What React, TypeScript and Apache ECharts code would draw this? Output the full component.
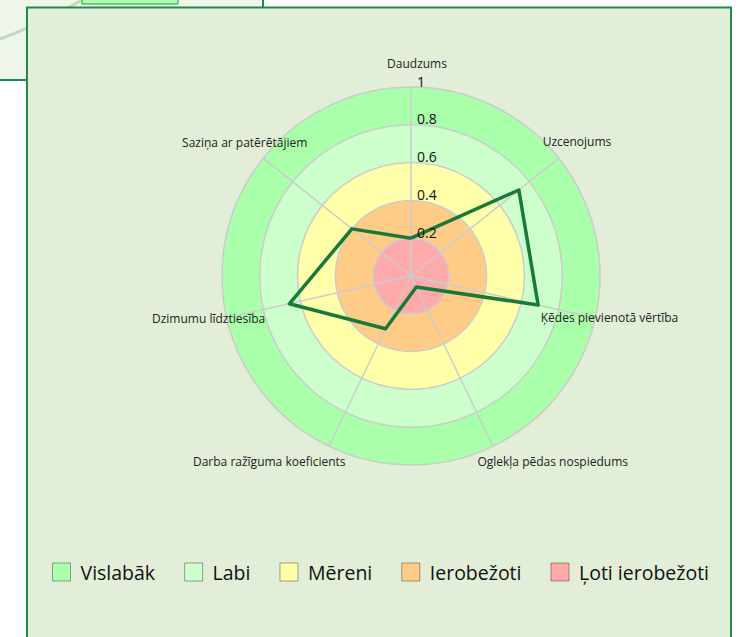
import React, { useEffect, useRef } from "react";
import * as echarts from "echarts";

// Indicators in clockwise order starting from the top
const indicatorNames = [
  "Daudzums",
  "Uzcenojums",
  "Ķēdes pievienotā vērtība",
  "Oglekļa pēdas nospiedums",
  "Darba ražīguma koeficients",
  "Dzimumu līdztiesība",
  "Saziņa ar patērētājiem",
];
const scoreValues = [0.2, 0.73, 0.69, 0.065, 0.31, 0.66, 0.4];
const bandNames = ["Vislabāk", "Labi", "Mēreni", "Ierobežoti", "Ļoti ierobežoti"];
const bandColors = ["#aaffaa", "#ccffcc", "#ffffaa", "#ffcc88", "#ffaaaa"];
const tickValues = [0, 0.2, 0.4, 0.6, 0.8, 1];
const tickLabels = ["", "0.2", "0.4", "0.6", "0.8", "1"];

// label paddings [top, right, bottom, left] per indicator (clockwise order)
const namePads = [
  [0, 0, 152, 12],
  [0, 0, 106, 30],
  [26, 0, 0, 3],
  [136, 0, 0, 10],
  [136, 9, 0, 0],
  [28, 19, 0, 0],
  [0, 2, 104, 0],
];

export default function App() {
  const ref = useRef<HTMLDivElement>(null);
  useEffect(() => {
    if (!ref.current) return;
    const chart = echarts.init(ref.current, undefined, { renderer: "svg" });
    // ECharts radar goes counter-clockwise; reorder so the picture is clockwise
    const order = [0, 6, 5, 4, 3, 2, 1];
    const rich: Record<string, any> = {};
    namePads.forEach((p, i) => {
      rich["n" + i] = {
        padding: p,
        fontSize: 12,
        lineHeight: 14,
        color: "#222",
        fontFamily: "Open Sans",
      };
    });
    const font = "Open Sans";
    chart.setOption({
      animation: false,
      graphic: [
        {
          type: "rect",
          z: -10,
          shape: { x: -2, y: -2, width: 265, height: 82 },
          style: { fill: "#eef6ea", stroke: "#1f8a4c", lineWidth: 2 },
        },
        {
          type: "bezierCurve",
          z: -9,
          shape: { x1: 0, y1: 39, cpx1: 30, cpy1: 28, cpx2: 60, cpy2: 14, x2: 88, y2: -4 },
          style: { stroke: "#c4d8bf", lineWidth: 3, fill: "none" },
        },
        {
          type: "rect",
          z: -9,
          shape: { x: 82, y: -4, width: 96, height: 8 },
          style: { fill: "#aaffaa", stroke: "#2e8b57", lineWidth: 1 },
        },
        {
          type: "rect",
          z: -8,
          shape: { x: 27, y: 7.5, width: 704, height: 640 },
          style: { fill: "#e2eed8", stroke: "#1f8a4c", lineWidth: 2 },
        },
      ],
      legend: {
        left: 52,
        top: 562,
        padding: 0,
        itemWidth: 18,
        itemHeight: 18,
        itemGap: 29,
        icon: "rect",
        selectedMode: false,
        textStyle: { fontSize: 19.5, color: "#111", fontFamily: font, padding: [0, 0, 0, 5] },
        data: bandNames.map((n, i) => ({
          name: n,
          itemStyle: { color: bandColors[i], borderColor: "rgba(0,0,0,0.35)", borderWidth: 1 },
        })),
      },
      radar: {
        center: [411, 276],
        radius: 189,
        startAngle: 90,
        splitNumber: 5,
        shape: "circle",
        nameGap: -59,
        indicator: order.map((i) => ({ name: indicatorNames[i], min: 0, max: 1 })),
        axisName: {
          color: "#222",
          fontSize: 12,
          fontFamily: font,
          formatter: (name: string) => {
            const i = indicatorNames.indexOf(name);
            return "{n" + i + "|" + name + "}";
          },
          rich,
        },
        splitArea: {
          show: true,
          areaStyle: { color: bandColors.slice().reverse() },
        },
        splitLine: { lineStyle: { color: "#cccccc", width: 1.5 } },
        axisLine: { lineStyle: { color: "#cccccc", width: 1.5 } },
        axisLabel: { show: false },
        axisTick: { show: false },
      },
      polar: { center: [411, 276], radius: 189 },
      angleAxis: { show: false, startAngle: 90, min: 0, max: 360 },
      radiusAxis: {
        min: 0,
        max: 1,
        interval: 0.2,
        axisLine: { show: false },
        axisTick: { show: false },
        splitLine: { show: false },
        z: 10,
        axisLabel: {
          show: true,
          fontSize: 14,
          color: "#111",
          fontFamily: font,
          margin: -6,
          align: "left",
          verticalAlign: "bottom",
          lineHeight: 12,
          formatter: (v: number) => {
            const k = tickValues.findIndex((t) => Math.abs(t - v) < 1e-6);
            return k >= 0 ? tickLabels[k] : "";
          },
        },
      },
      series: [
        ...bandNames.map((n, i) => ({
          type: "radar",
          name: n,
          data: [],
          itemStyle: { color: bandColors[i] },
        })),
        {
          type: "radar",
          name: "Rezultāts",
          symbol: "none",
          z: 5,
          lineStyle: { color: "#177a38", width: 3.5 },
          itemStyle: { color: "#177a38" },
          data: [{ value: order.map((i) => scoreValues[i]), name: "Rezultāts" }],
        },
      ],
    });
    return () => chart.dispose();
  }, []);
  return (
    <div
      ref={ref}
      style={{ position: "absolute", left: 0, top: 0, width: 741, height: 637 }}
    />
  );
}
